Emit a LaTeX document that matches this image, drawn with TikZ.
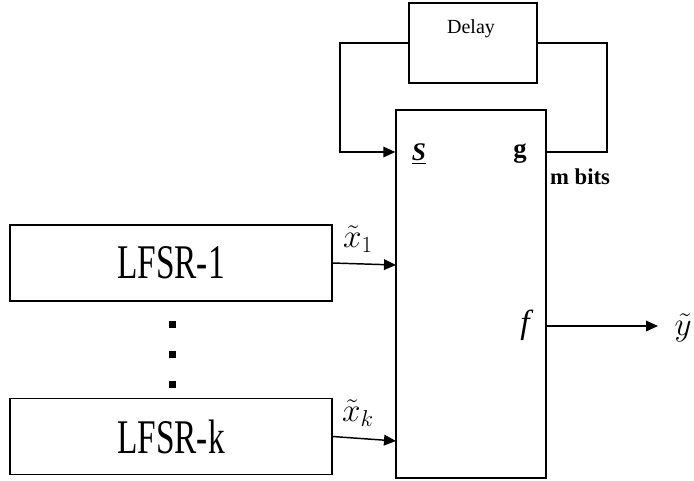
\documentclass[tikz,border=0pt]{standalone}
\usepackage{fontspec}
\setmainfont{Liberation Serif}
\usetikzlibrary{arrows.meta}

\begin{document}
\begin{tikzpicture}[x=0.75pt, y=-0.75pt, line width=1.1pt,
    >={Triangle[length=9pt,width=8pt]},
    block/.style={draw, rectangle, inner sep=0pt},
    reg/.style={block, minimum width=241.5pt, minimum height=57pt,
        font=\fontsize{25}{30}\selectfont},
    sig/.style={font=\fontsize{23}{28}\selectfont, inner sep=0pt}]

    \useasboundingbox (0,0) rectangle (694,480);

    % --- Blocks ---
    \node[block, minimum width=96pt, minimum height=60pt] (delay) at (473,43) {};
    \node[font=\fontsize{15}{18}\selectfont] (delaytxt) at (471,29) {Delay};
    \node[block, minimum width=112.5pt, minimum height=276pt] (comb) at (471,294) {};
    \node[reg] (lfsr1) at (171,263) {\scalebox{1}[1.45]{LFSR-1}};
    \node[reg] (lfsrk) at (171,436.5) {\scalebox{1}[1.45]{LFSR-k}};

    % --- Labels inside the combiner ---
    \node[font=\fontsize{19}{22}\selectfont] (s) at (419,154) {\underline{\textbf{\textit{S}}}};
    \node[font=\fontsize{20}{24}\selectfont\bfseries] (g) at (520,154) {g};
    \node[sig, font=\fontsize{25}{30}\selectfont] (f) at (527,325) {\textit{f}};

    % --- Dots between the registers ---
    \foreach \yy in {324,354,384}
        \fill (169,\yy-3.5) rectangle (176,\yy+3.5);

    % --- Feedback loop through the delay ---
    \coordinate (gout) at (607,152);
    \coordinate (sin) at (340,152);
    \draw (comb.east |- gout) -- (gout) |- (delay.east);
    \draw[->] (delay.west) -| (sin) -- (comb.west |- sin);
    \node[font=\fontsize{17}{20}\selectfont\bfseries, anchor=north west] (mbits) at (545,164) {m bits};

    % --- Register outputs ---
    \coordinate (x1in) at (396,265);
    \coordinate (xkin) at (396,441);
    \draw[->] (lfsr1.east) -- (x1in);
    \draw[->] (lfsrk.east) -- (xkin);
    \node[sig] (x1) at (358,239) {$\tilde{x}_1$};
    \node[sig] (xk) at (358,413) {$\tilde{x}_k$};

    % --- Output ---
    \coordinate (yout) at (658,326);
    \draw[->] (comb.east |- yout) -- (yout);
    \node[sig, font=\fontsize{26}{30}\selectfont, anchor=west] (y) at (674,328) {$\tilde{y}$};

\end{tikzpicture}
\end{document}
